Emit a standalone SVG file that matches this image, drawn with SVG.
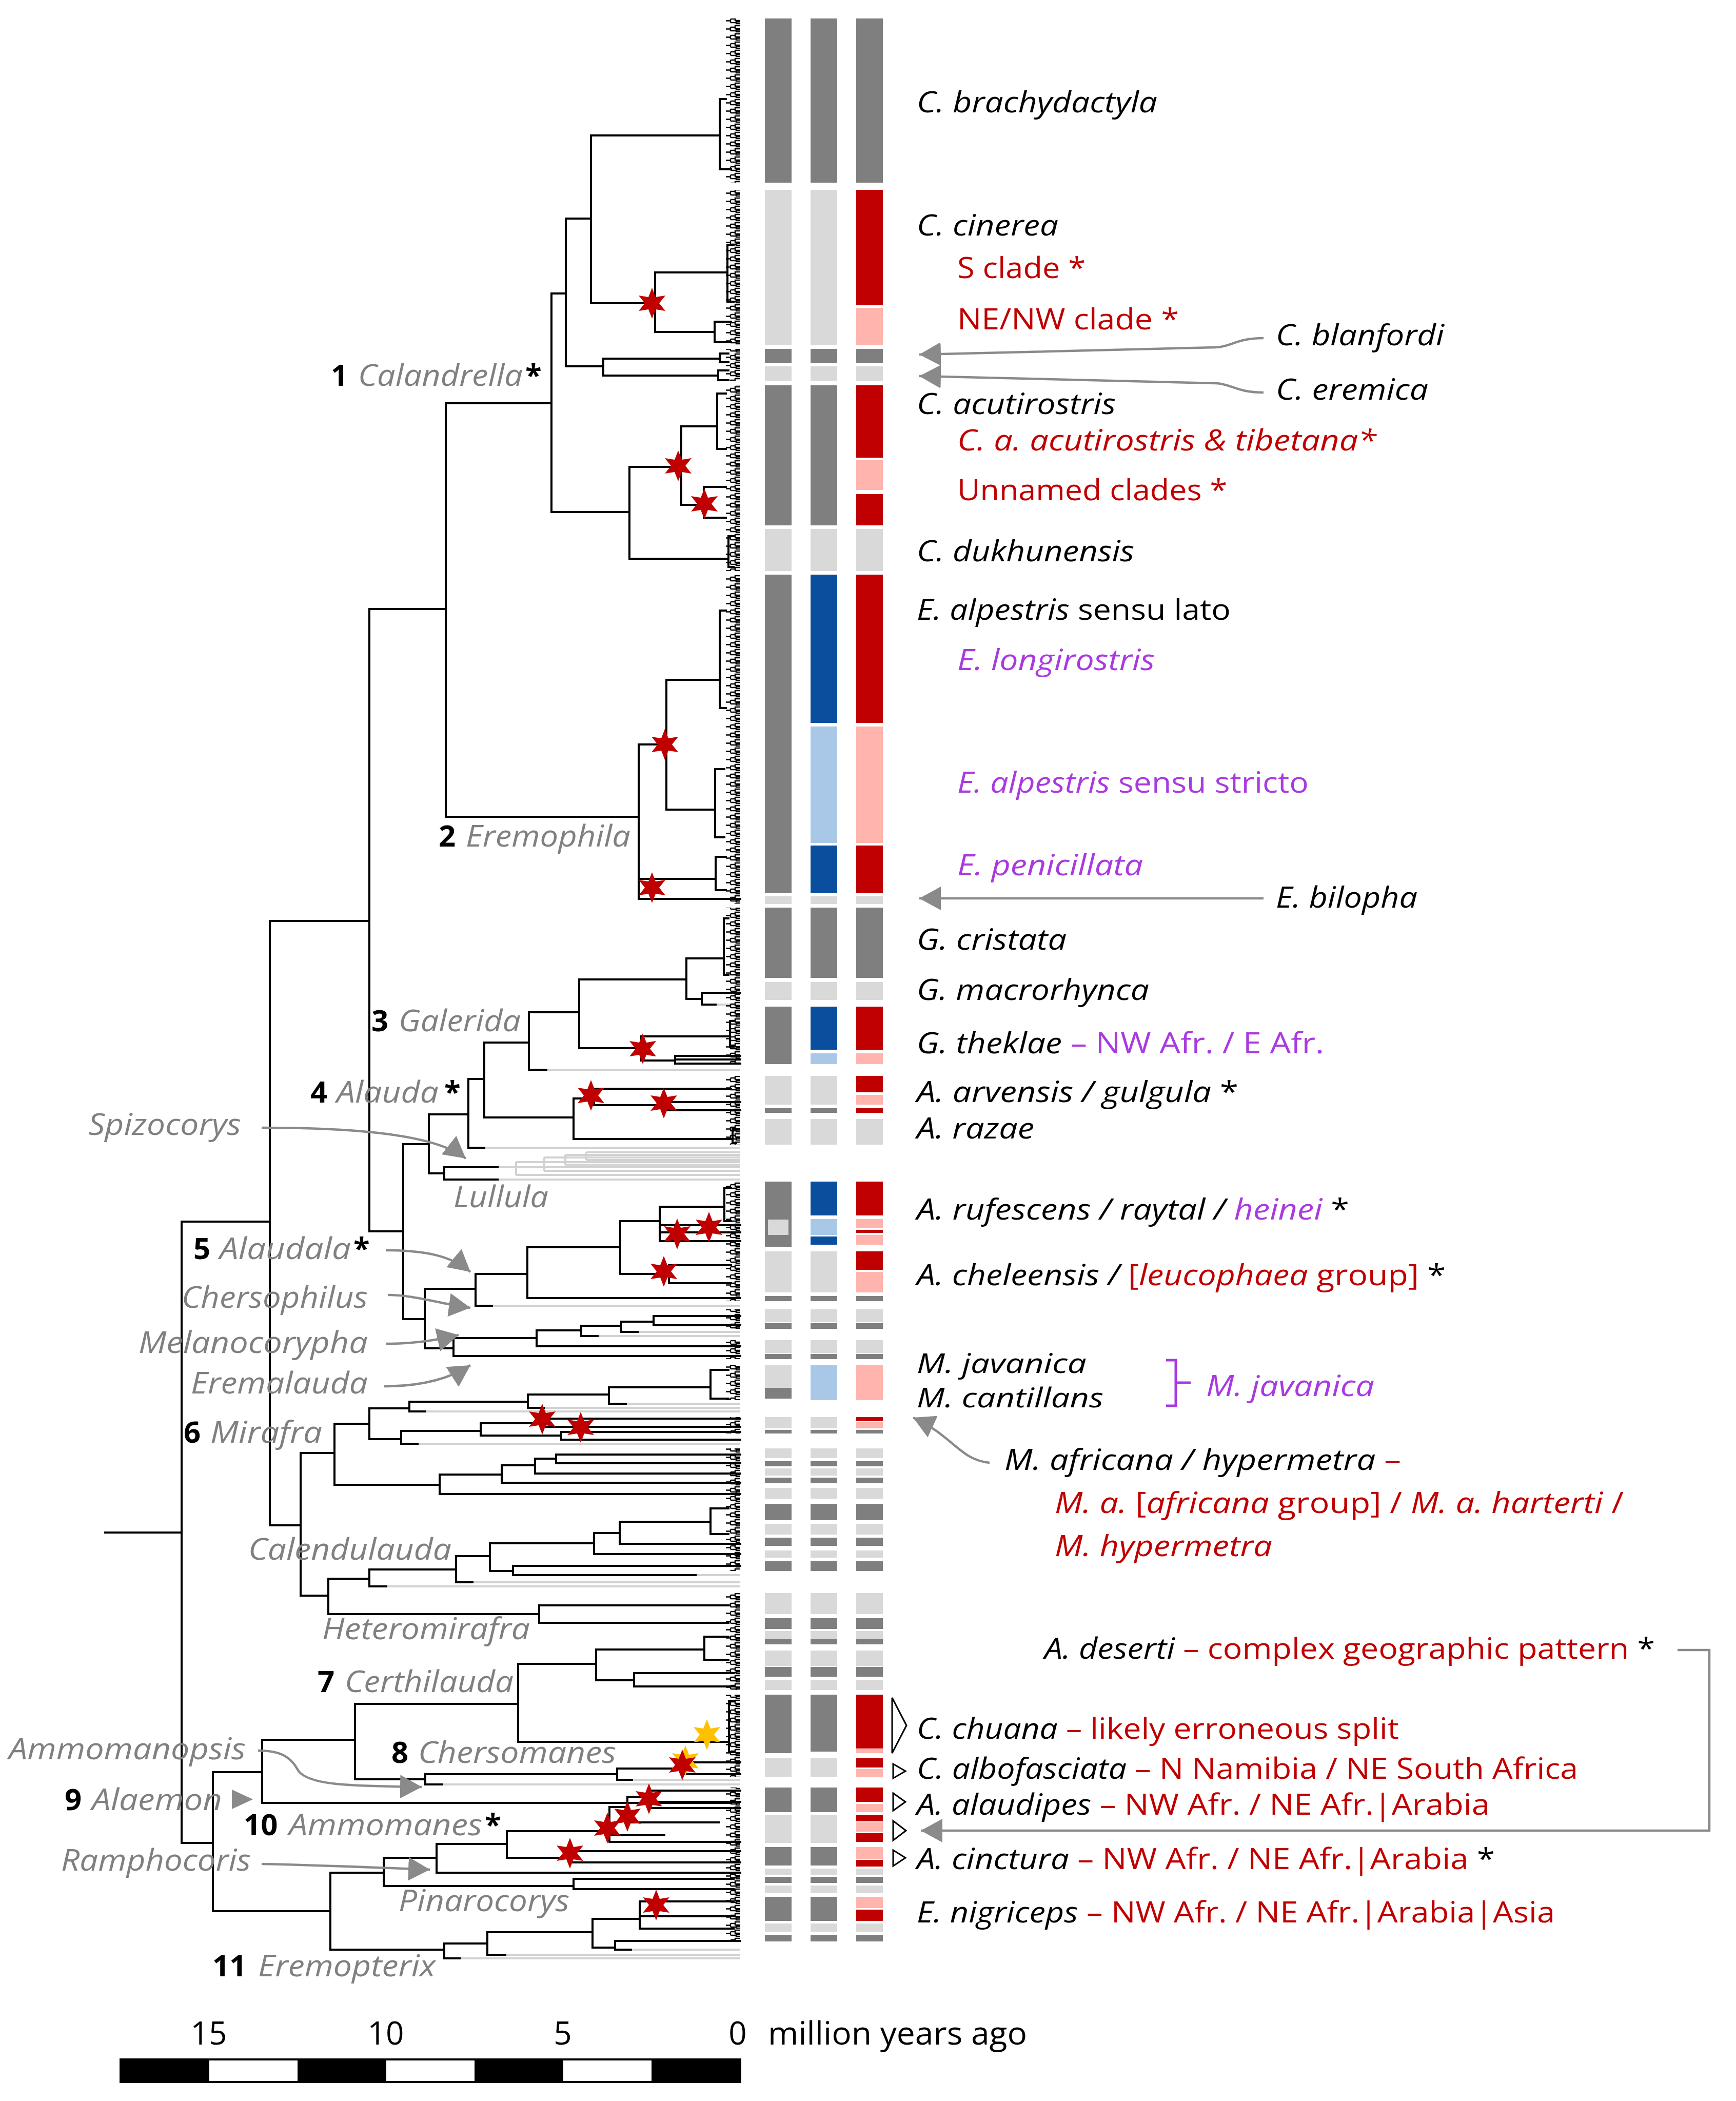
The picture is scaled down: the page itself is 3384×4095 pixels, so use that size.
<svg xmlns="http://www.w3.org/2000/svg" xmlns:xlink="http://www.w3.org/1999/xlink" width="3384" height="4095" viewBox="0 0 3384 4095">
<style>
.br{fill:none;stroke:#000;stroke-width:4;stroke-linecap:square}
.gt{fill:none;stroke:#d2d2d2;stroke-width:4}
.ar{fill:none;stroke:#8a8a8a;stroke-width:4.5}
text{font-family:'Open Sans',Lato,'Liberation Sans',sans-serif;font-size:56px;fill:#000}
.c{fill:#808080;font-style:italic;font-size:58px}
.n{font-weight:bold;fill:#000;font-size:58px}
.i{font-style:italic}
.u{font-style:normal}
.r{fill:#c00000}
.p{fill:#a93ae0}
.sm{font-size:53px}
.D{fill:#7f7f7f}.L{fill:#d9d9d9}.R{fill:#c00000}.P{fill:#ffb4ae}.B{fill:#0a4f9e}.LB{fill:#a9c8e8}
.tri{fill:#fff;stroke:#000;stroke-width:3}
</style>
<defs>
<pattern id="comb" patternUnits="userSpaceOnUse" x="1409" y="0" width="34" height="16">
<path d="M34 2H24V8H34M24 5H15M34 10.5H26V14H34M26 12H15M15 5V12M15 8.5H6" fill="none" stroke="#000" stroke-width="2.4"/>
</pattern>
<marker id="ah" markerUnits="userSpaceOnUse" markerWidth="46" markerHeight="46" refX="42" refY="23" orient="auto">
<path d="M0 0L42 23L0 46Z" fill="#8a8a8a"/>
</marker>
<polygon id="star" points="0,-30 7,-12.1 26,-15 14,0 26,15 7,12.1 0,30 -7,12.1 -26,15 -14,0 -26,-15 -7,-12.1"/>
</defs>
<rect width="3384" height="4095" fill="#fff"/>

<g id="tree">
<path class="gt" d="M944 2237H1443M970 2275H1443M970 2299H1443M1006 2265V2290M1006 2265H1443M1006 2290H1443M1061 2256V2282M1061 2256H1443M1061 2282H1443M1102 2251V2270M1102 2251H1443M1102 2270H1443M1143 2246V2261M1143 2246H1443M1143 2261H1443M1065 2085H1443M1395 1958H1443M959 2545H1443M1165 2604H1443M1243 2596H1443M828 2751H1443M1060 2744H1443M1220 2736H1443M814 2814H1443M753 3092H1443M921 3084H1443M1356 3070H1443M862 3478H1443M1232 3469H1443M896 3817H1443M985 3810H1443M1230 3800H1443"/>
<path class="br" d="M205 2987H354M526 2381H354V3592H415M720 1795H526V2973H586M869 1187H720V2400H786M1075 786H869V1592H1245
M1103 572H1075V998H1227M1152 426H1103V714H1176M1403 264H1152V591H1277M1415 193H1403V330H1425M1418 531H1277V647H1393M1430 477H1418V588H1430M1425 627H1393V667H1425M1403 699H1176V732H1400M1420 689H1403V706H1420M1420 722H1400V741H1420
M1328 910H1227V1089H1420M1398 831H1328V984H1372M1415 767H1398V875H1415M1415 949H1372V1009H1415M1430 1045H1420V1105H1430
M1299 1451H1245V1752H1443M1245 1713H1395M1403 1325H1299V1578H1394M1415 1190H1403V1380H1415M1412 1499H1394V1632H1412M1415 1670H1395V1735H1415
M836 2230H786V2571H828M913 2172H836V2287H866M944 2103H913V2237H944M1031 2032H944V2178H1118M1129 1973H1031V2085H1065M1338 1909H1129V2043H1250M1411 1868H1338V1947H1368M1420 1790H1411V1900H1420M1443 1935H1368V1958H1395M1423 2020H1250V2067H1316M1430 1990H1423V2040H1430M1443 2058H1316V2073H1443M1316 2065H1443
M1158 2141H1118V2220H1428M1425 2122H1158V2154H1299M1443 2148H1299V2164H1443M1435 2200H1428V2228H1435M970 2275H866V2299H970
M927 2512H828V2628H884M1028 2483H927V2545H959M1209 2431H1028V2530H1443M1286 2380H1209V2483H1304M1425 2466H1304V2501H1425M1412 2352H1286V2419H1443M1286 2388H1443M1286 2402H1443M1425 2315H1412V2380H1425
M1046 2608H884V2643H1443M1133 2593H1046V2624H1443M1211 2584H1133V2604H1165M1274 2576H1211V2596H1243M1443 2565H1274V2583H1443
M652 2832H586V3110H640M720 2775H652V2894H857M798 2745H720V2805H782M1029 2732H798V2751H828M1187 2718H1029V2744H1060M1385 2704H1187V2736H1220M1420 2670H1385V2726H1420M937 2789H782V2814H814M1063 2774H937V2798H1094M1443 2765H1063V2781H1443M1443 2791H1094V2806H1443
M978 2874H857V2912H1443M1043 2856H978V2890H1443M1084 2843H1043V2872H1443M1443 2835H1084V2852H1443
M720 3077H640V3146H1051M889 3059H720V3092H753M955 3033H889V3084H921M1158 3008H955V3062H1000M1208 2988H1158V3029H1443M1385 2966H1208V3009H1443M1420 2940H1385V2990H1420M1443 3052H1000V3070H1356M1420 3129H1051V3163H1420
M511 3454H415V3725H644M692 3391H511V3514H1425M1010 3321H692V3468H829M1162 3243H1010V3395H1421M1373 3215H1162V3275H1236M1420 3190H1373V3235H1420M1430 3261H1236V3287H1430M1430 3315H1421V3415H1430M1203 3458H829V3478H862M1336 3447H1203V3469H1232M1443 3435H1336V3458H1443
M748 3650H644V3800H866M851 3621H748V3676H1118M988 3594H851V3650H1443M1188 3569H988V3621H1111M1223 3522H1188V3590H1443M1188 3577H1295M1265 3502H1223V3552H1402M1443 3490H1265V3524H1443M1265 3512H1443M1443 3608H1111V3630H1443M1430 3662H1118V3682H1430
M950 3788H866V3817H896M1155 3766H950V3810H985M1247 3740H1155V3796H1199M1430 3706H1247V3759H1430M1247 3735H1430M1443 3783H1199V3800H1230"/>
<g fill="url(#comb)">
<rect x="1409" y="36" width="34" height="320"/>
<rect x="1409" y="370" width="34" height="303"/>
<rect x="1409" y="680" width="34" height="62"/>
<rect x="1409" y="751" width="34" height="362"/>
<rect x="1409" y="1120" width="34" height="642"/>
<rect x="1409" y="1769" width="34" height="305"/>
<rect x="1409" y="2097" width="34" height="134"/>
<rect x="1409" y="2303" width="34" height="233"/>
<rect x="1409" y="2552" width="34" height="38"/>
<rect x="1409" y="2612" width="34" height="37"/>
<rect x="1409" y="2661" width="34" height="68"/>
<rect x="1409" y="2762" width="34" height="32"/>
<rect x="1409" y="2823" width="34" height="239"/>
<rect x="1409" y="3105" width="34" height="189"/>
<rect x="1409" y="3303" width="34" height="160"/>
<rect x="1409" y="3484" width="34" height="300"/>
</g>
</g>

<g id="stars">
<use href="#star" x="1271" y="591" fill="#c00000"/>
<use href="#star" x="1322" y="908" fill="#c00000"/>
<use href="#star" x="1373" y="982" fill="#c00000"/>
<use href="#star" x="1296" y="1451" fill="#c00000"/>
<use href="#star" x="1271" y="1730" fill="#c00000"/>
<use href="#star" x="1253" y="2044" fill="#c00000"/>
<use href="#star" x="1152" y="2135" fill="#c00000"/>
<use href="#star" x="1294" y="2150" fill="#c00000"/>
<use href="#star" x="1382" y="2392" fill="#c00000"/>
<use href="#star" x="1320" y="2405" fill="#c00000"/>
<use href="#star" x="1294" y="2478" fill="#c00000"/>
<use href="#star" x="1057" y="2766" fill="#c00000"/>
<use href="#star" x="1132" y="2782" fill="#c00000"/>
<use href="#star" x="1378" y="3381" fill="#ffc000"/>
<use href="#star" x="1336" y="3432" fill="#ffc000"/>
<use href="#star" x="1330" y="3440" fill="#c00000"/>
<use href="#star" x="1265" y="3506" fill="#c00000"/>
<use href="#star" x="1223" y="3540" fill="#c00000"/>
<use href="#star" x="1184" y="3563" fill="#c00000"/>
<use href="#star" x="1111" y="3612" fill="#c00000"/>
<use href="#star" x="1279" y="3713" fill="#c00000"/>
</g>

<g id="bars">
<rect class="D" x="1491" y="36" width="52" height="320"/><rect class="D" x="1580" y="36" width="52" height="320"/><rect class="D" x="1669" y="36" width="52" height="320"/>
<rect class="L" x="1491" y="370" width="52" height="303"/><rect class="L" x="1580" y="370" width="52" height="303"/><rect class="R" x="1669" y="370" width="52" height="225"/><rect class="P" x="1669" y="600" width="52" height="73"/>
<rect class="D" x="1491" y="680" width="52" height="28"/><rect class="D" x="1580" y="680" width="52" height="28"/><rect class="D" x="1669" y="680" width="52" height="28"/>
<rect class="L" x="1491" y="714" width="52" height="28"/><rect class="L" x="1580" y="714" width="52" height="28"/><rect class="L" x="1669" y="714" width="52" height="28"/>
<rect class="D" x="1491" y="751" width="52" height="273"/><rect class="D" x="1580" y="751" width="52" height="273"/><rect class="R" x="1669" y="751" width="52" height="141"/><rect class="P" x="1669" y="896" width="52" height="59"/><rect class="R" x="1669" y="963" width="52" height="61"/>
<rect class="L" x="1491" y="1031" width="52" height="82"/><rect class="L" x="1580" y="1031" width="52" height="82"/><rect class="L" x="1669" y="1031" width="52" height="82"/>
<rect class="D" x="1491" y="1120" width="52" height="621"/><rect class="B" x="1580" y="1120" width="52" height="289"/><rect class="LB" x="1580" y="1416" width="52" height="227"/><rect class="B" x="1580" y="1648" width="52" height="93"/><rect class="R" x="1669" y="1120" width="52" height="289"/><rect class="P" x="1669" y="1416" width="52" height="227"/><rect class="R" x="1669" y="1648" width="52" height="93"/>
<rect class="L" x="1491" y="1747" width="52" height="15"/><rect class="L" x="1580" y="1747" width="52" height="15"/><rect class="L" x="1669" y="1747" width="52" height="15"/>
<rect class="D" x="1491" y="1769" width="52" height="137"/><rect class="D" x="1580" y="1769" width="52" height="137"/><rect class="D" x="1669" y="1769" width="52" height="137"/>
<rect class="L" x="1491" y="1914" width="52" height="35"/><rect class="L" x="1580" y="1914" width="52" height="35"/><rect class="L" x="1669" y="1914" width="52" height="35"/>
<rect class="D" x="1491" y="1962" width="52" height="112"/><rect class="B" x="1580" y="1962" width="52" height="84"/><rect class="LB" x="1580" y="2053" width="52" height="21"/><rect class="R" x="1669" y="1962" width="52" height="84"/><rect class="P" x="1669" y="2053" width="52" height="21"/>
<rect class="L" x="1491" y="2097" width="52" height="56"/><rect class="L" x="1580" y="2097" width="52" height="56"/><rect class="R" x="1669" y="2097" width="52" height="32"/><rect class="P" x="1669" y="2134" width="52" height="19"/>
<rect class="D" x="1491" y="2160" width="52" height="9"/><rect class="D" x="1580" y="2160" width="52" height="9"/><rect class="R" x="1669" y="2160" width="52" height="9"/>
<rect class="L" x="1491" y="2181" width="52" height="50"/><rect class="L" x="1580" y="2181" width="52" height="50"/><rect class="L" x="1669" y="2181" width="52" height="50"/>
<rect class="D" x="1491" y="2303" width="52" height="127"/><rect class="L" x="1497" y="2377" width="40" height="30"/><rect class="B" x="1580" y="2303" width="52" height="66"/><rect class="LB" x="1580" y="2376" width="52" height="31"/><rect class="B" x="1580" y="2410" width="52" height="16"/><rect class="R" x="1669" y="2303" width="52" height="66"/><rect class="P" x="1669" y="2376" width="52" height="17"/><rect class="R" x="1669" y="2397" width="52" height="6"/><rect class="P" x="1669" y="2407" width="52" height="19"/>
<rect class="L" x="1491" y="2439" width="52" height="80"/><rect class="L" x="1580" y="2439" width="52" height="80"/><rect class="R" x="1669" y="2439" width="52" height="36"/><rect class="P" x="1669" y="2479" width="52" height="40"/>
<rect class="D" x="1491" y="2526" width="52" height="10"/><rect class="D" x="1580" y="2526" width="52" height="10"/><rect class="D" x="1669" y="2526" width="52" height="10"/>
<rect class="L" x="1491" y="2552" width="52" height="25"/><rect class="L" x="1580" y="2552" width="52" height="25"/><rect class="L" x="1669" y="2552" width="52" height="25"/>
<rect class="D" x="1491" y="2579" width="52" height="11"/><rect class="D" x="1580" y="2579" width="52" height="11"/><rect class="D" x="1669" y="2579" width="52" height="11"/>
<rect class="L" x="1491" y="2612" width="52" height="25"/><rect class="L" x="1580" y="2612" width="52" height="25"/><rect class="L" x="1669" y="2612" width="52" height="25"/>
<rect class="D" x="1491" y="2639" width="52" height="10"/><rect class="D" x="1580" y="2639" width="52" height="10"/><rect class="D" x="1669" y="2639" width="52" height="10"/>
<rect class="L" x="1491" y="2661" width="52" height="44"/><rect class="D" x="1491" y="2705" width="52" height="21"/><rect class="LB" x="1580" y="2661" width="52" height="68"/><rect class="P" x="1669" y="2661" width="52" height="68"/>
<rect class="L" x="1491" y="2762" width="52" height="22"/><rect class="L" x="1580" y="2762" width="52" height="22"/><rect class="R" x="1669" y="2762" width="52" height="8"/><rect class="P" x="1669" y="2771" width="52" height="13"/>
<rect class="D" x="1491" y="2787" width="52" height="7"/><rect class="D" x="1580" y="2787" width="52" height="7"/><rect class="D" x="1669" y="2787" width="52" height="7"/>
<g id="barsMirafra">
<rect class="L" x="1491" y="2823" width="52" height="19"/><rect class="L" x="1580" y="2823" width="52" height="19"/><rect class="L" x="1669" y="2823" width="52" height="19"/>
<rect class="D" x="1491" y="2848" width="52" height="10"/><rect class="D" x="1580" y="2848" width="52" height="10"/><rect class="D" x="1669" y="2848" width="52" height="10"/>
<rect class="L" x="1491" y="2862" width="52" height="14"/><rect class="L" x="1580" y="2862" width="52" height="14"/><rect class="L" x="1669" y="2862" width="52" height="14"/>
<rect class="D" x="1491" y="2880" width="52" height="11"/><rect class="D" x="1580" y="2880" width="52" height="11"/><rect class="D" x="1669" y="2880" width="52" height="11"/>
<rect class="L" x="1491" y="2900" width="52" height="21"/><rect class="L" x="1580" y="2900" width="52" height="21"/><rect class="L" x="1669" y="2900" width="52" height="21"/>
<rect class="D" x="1491" y="2931" width="52" height="32"/><rect class="D" x="1580" y="2931" width="52" height="32"/><rect class="D" x="1669" y="2931" width="52" height="32"/>
<rect class="L" x="1491" y="2970" width="52" height="21"/><rect class="L" x="1580" y="2970" width="52" height="21"/><rect class="L" x="1669" y="2970" width="52" height="21"/>
<rect class="D" x="1491" y="2997" width="52" height="16"/><rect class="D" x="1580" y="2997" width="52" height="16"/><rect class="D" x="1669" y="2997" width="52" height="16"/>
<rect class="L" x="1491" y="3022" width="52" height="14"/><rect class="L" x="1580" y="3022" width="52" height="14"/><rect class="L" x="1669" y="3022" width="52" height="14"/>
<rect class="D" x="1491" y="3043" width="52" height="19"/><rect class="D" x="1580" y="3043" width="52" height="19"/><rect class="D" x="1669" y="3043" width="52" height="19"/>
<rect class="L" x="1491" y="3105" width="52" height="41"/><rect class="L" x="1580" y="3105" width="52" height="41"/><rect class="L" x="1669" y="3105" width="52" height="41"/>
<rect class="D" x="1491" y="3154" width="52" height="21"/><rect class="D" x="1580" y="3154" width="52" height="21"/><rect class="D" x="1669" y="3154" width="52" height="21"/>
<rect class="L" x="1491" y="3179" width="52" height="15"/><rect class="L" x="1580" y="3179" width="52" height="15"/><rect class="L" x="1669" y="3179" width="52" height="15"/>
<rect class="D" x="1491" y="3195" width="52" height="10"/><rect class="D" x="1580" y="3195" width="52" height="10"/><rect class="D" x="1669" y="3195" width="52" height="10"/>
<rect class="L" x="1491" y="3217" width="52" height="30"/><rect class="L" x="1580" y="3217" width="52" height="30"/><rect class="L" x="1669" y="3217" width="52" height="30"/>
<rect class="D" x="1491" y="3249" width="52" height="19"/><rect class="D" x="1580" y="3249" width="52" height="19"/><rect class="D" x="1669" y="3249" width="52" height="19"/>
<rect class="L" x="1491" y="3275" width="52" height="19"/><rect class="L" x="1580" y="3275" width="52" height="19"/><rect class="L" x="1669" y="3275" width="52" height="19"/>
</g>
<rect class="D" x="1491" y="3303" width="52" height="114"/><rect class="D" x="1580" y="3303" width="52" height="111"/><rect class="R" x="1669" y="3303" width="52" height="105"/><rect class="P" x="1669" y="3409" width="52" height="8"/>
<rect class="L" x="1491" y="3427" width="52" height="36"/><rect class="L" x="1580" y="3427" width="52" height="36"/><rect class="R" x="1669" y="3427" width="52" height="18"/><rect class="P" x="1669" y="3448" width="52" height="15"/>
<rect class="D" x="1491" y="3484" width="52" height="48"/><rect class="D" x="1580" y="3484" width="52" height="48"/><rect class="R" x="1669" y="3484" width="52" height="28"/><rect class="P" x="1669" y="3516" width="52" height="16"/>
<rect class="L" x="1491" y="3537" width="52" height="55"/><rect class="L" x="1580" y="3537" width="52" height="55"/><rect class="R" x="1669" y="3538" width="52" height="12"/><rect class="P" x="1669" y="3552" width="52" height="18"/><rect class="R" x="1669" y="3573" width="52" height="17"/>
<rect class="D" x="1491" y="3600" width="52" height="36"/><rect class="D" x="1580" y="3600" width="52" height="36"/><rect class="P" x="1669" y="3600" width="52" height="24"/><rect class="R" x="1669" y="3625" width="52" height="13"/>
<rect class="L" x="1491" y="3642" width="52" height="12"/><rect class="L" x="1580" y="3642" width="52" height="12"/><rect class="L" x="1669" y="3642" width="52" height="12"/>
<rect class="D" x="1491" y="3658" width="52" height="12"/><rect class="D" x="1580" y="3658" width="52" height="12"/><rect class="D" x="1669" y="3658" width="52" height="12"/>
<rect class="L" x="1491" y="3675" width="52" height="15"/><rect class="L" x="1580" y="3675" width="52" height="15"/><rect class="L" x="1669" y="3675" width="52" height="15"/>
<rect class="D" x="1491" y="3697" width="52" height="47"/><rect class="D" x="1580" y="3697" width="52" height="47"/><rect class="P" x="1669" y="3697" width="52" height="22"/><rect class="R" x="1669" y="3722" width="52" height="22"/>
<rect class="L" x="1491" y="3749" width="52" height="16"/><rect class="L" x="1580" y="3749" width="52" height="16"/><rect class="L" x="1669" y="3749" width="52" height="16"/>
<rect class="D" x="1491" y="3771" width="52" height="13"/><rect class="D" x="1580" y="3771" width="52" height="13"/><rect class="D" x="1669" y="3771" width="52" height="13"/>
</g>

<g id="connectors">
<path class="ar" marker-end="url(#ah)" d="M2463 659C2410 659 2400 676 2370 677L1792 691"/>
<path class="ar" marker-end="url(#ah)" d="M2463 765C2410 765 2400 748 2370 747L1792 733"/>
<path class="ar" marker-end="url(#ah)" d="M2463 1751H1792"/>
<path class="ar" marker-end="url(#ah)" d="M3270 3216H3332V3568H1795"/>
<path class="ar" marker-end="url(#ah)" d="M1929 2851C1870 2845 1860 2800 1780 2763"/>
<path class="ar" marker-end="url(#ah)" d="M510 2198C700 2198 850 2212 908 2258"/>
<path class="ar" marker-end="url(#ah)" d="M752 2437C830 2437 880 2448 917 2479"/>
<path class="ar" marker-end="url(#ah)" d="M756 2524C810 2524 850 2540 917 2549"/>
<path class="ar" marker-end="url(#ah)" d="M752 2619C810 2619 850 2612 894 2602"/>
<path class="ar" marker-end="url(#ah)" d="M749 2702C820 2702 875 2688 917 2661"/>
<path class="ar" marker-end="url(#ah)" d="M503 3412C560 3412 572 3435 582 3452C605 3482 700 3481 822 3483"/>
<path class="ar" marker-end="url(#ah)" d="M510 3633C650 3636 730 3640 838 3644"/>
<polygon points="452,3488 493,3507 452,3526" fill="#8a8a8a"/>
<polygon class="tri" points="1739,3309 1767,3363 1739,3417"/>
<polygon class="tri" points="1741,3438 1765,3452 1741,3466"/>
<polygon class="tri" points="1741,3495 1765,3512 1741,3529"/>
<polygon class="tri" points="1741,3549 1766,3568 1741,3587"/>
<polygon class="tri" points="1741,3606 1765,3621 1741,3637"/>
<path d="M2273 2651H2292V2740H2273M2292 2695H2321" fill="none" stroke="#a93ae0" stroke-width="5"/>
</g>

<g id="cladeLabels">
<g id="c1"><text class="n" x="645" y="752">1</text><text class="c" x="698" y="752" textLength="321" lengthAdjust="spacingAndGlyphs">Calandrella</text><text class="n" x="1024" y="752">*</text></g>
<g id="c2"><text class="n" x="855" y="1650">2</text><text class="c" x="908" y="1650" textLength="321" lengthAdjust="spacingAndGlyphs">Eremophila</text></g>
<g id="c3"><text class="n" x="724" y="2010">3</text><text class="c" x="777" y="2010" textLength="238" lengthAdjust="spacingAndGlyphs">Galerida</text></g>
<g id="c4"><text class="n" x="605" y="2149">4</text><text class="c" x="656" y="2149" textLength="199" lengthAdjust="spacingAndGlyphs">Alauda</text><text class="n" x="866" y="2149">*</text></g>
<g id="c5"><text class="n" x="377" y="2454">5</text><text class="c" x="428" y="2454" textLength="256" lengthAdjust="spacingAndGlyphs">Alaudala</text><text class="n" x="689" y="2454">*</text></g>
<g id="c6"><text class="n" x="358" y="2812">6</text><text class="c" x="410" y="2812" textLength="218" lengthAdjust="spacingAndGlyphs">Mirafra</text></g>
<g id="c7"><text class="n" x="619" y="3298">7</text><text class="c" x="672" y="3298" textLength="329" lengthAdjust="spacingAndGlyphs">Certhilauda</text></g>
<g id="c8"><text class="n" x="763" y="3436">8</text><text class="c" x="815" y="3436" textLength="386" lengthAdjust="spacingAndGlyphs">Chersomanes</text></g>
<g id="c9"><text class="n" x="126" y="3528">9</text><text class="c" x="179" y="3528" textLength="254" lengthAdjust="spacingAndGlyphs">Alaemon</text></g>
<g id="c10"><text class="n" x="475" y="3577">10</text><text class="c" x="563" y="3577" textLength="377" lengthAdjust="spacingAndGlyphs">Ammomanes</text><text class="n" x="945" y="3577">*</text></g>
<g id="c11"><text class="n" x="414" y="3852">11</text><text class="c" x="503" y="3852" textLength="346" lengthAdjust="spacingAndGlyphs">Eremopterix</text></g>
<g id="spizocorys"><text class="c" x="172" y="2212" textLength="298" lengthAdjust="spacingAndGlyphs">Spizocorys</text></g>
<g id="lullula"><text class="c" x="884" y="2353" textLength="185" lengthAdjust="spacingAndGlyphs">Lullula</text></g>
<g id="chersophilus"><text class="c" x="354" y="2549" textLength="363" lengthAdjust="spacingAndGlyphs">Chersophilus</text></g>
<g id="melanocorypha"><text class="c" x="270" y="2637" textLength="447" lengthAdjust="spacingAndGlyphs">Melanocorypha</text></g>
<g id="eremalauda"><text class="c" x="372" y="2716" textLength="345" lengthAdjust="spacingAndGlyphs">Eremalauda</text></g>
<g id="calendulauda"><text class="c" x="484" y="3040" textLength="396" lengthAdjust="spacingAndGlyphs">Calendulauda</text></g>
<g id="heteromirafra"><text class="c" x="628" y="3195" textLength="405" lengthAdjust="spacingAndGlyphs">Heteromirafra</text></g>
<g id="ammomanopsis"><text class="c" x="17" y="3429" textLength="462" lengthAdjust="spacingAndGlyphs">Ammomanopsis</text></g>
<g id="ramphocoris"><text class="c" x="119" y="3646" textLength="370" lengthAdjust="spacingAndGlyphs">Ramphocoris</text></g>
<g id="pinarocorys"><text class="c" x="777" y="3725" textLength="333" lengthAdjust="spacingAndGlyphs">Pinarocorys</text></g>
</g>

<g id="taxonLabels">
<g id="l1"><text class="i" x="1787" y="219" textLength="469" lengthAdjust="spacingAndGlyphs">C. brachydactyla</text></g>
<g id="l2"><text class="i" x="1787" y="459" textLength="276" lengthAdjust="spacingAndGlyphs">C. cinerea</text></g>
<g id="l3"><text class="r" x="1866" y="542" textLength="250" lengthAdjust="spacingAndGlyphs">S clade *</text></g>
<g id="l4"><text class="r" x="1866" y="642" textLength="432" lengthAdjust="spacingAndGlyphs">NE/NW clade *</text></g>
<g id="l5"><text class="i" x="2487" y="673" textLength="328" lengthAdjust="spacingAndGlyphs">C. blanfordi</text></g>
<g id="l6"><text class="i" x="2487" y="779" textLength="297" lengthAdjust="spacingAndGlyphs">C. eremica</text></g>
<g id="l7"><text class="i" x="1787" y="807" textLength="388" lengthAdjust="spacingAndGlyphs">C. acutirostris</text></g>
<g id="l8"><text class="i r" x="1866" y="878" textLength="817" lengthAdjust="spacingAndGlyphs">C. a. acutirostris &amp; tibetana*</text></g>
<g id="l9"><text class="r" x="1866" y="975" textLength="526" lengthAdjust="spacingAndGlyphs">Unnamed clades *</text></g>
<g id="l10"><text class="i" x="1787" y="1094" textLength="424" lengthAdjust="spacingAndGlyphs">C. dukhunensis</text></g>
<g id="l11"><text x="1787" y="1208" textLength="612" lengthAdjust="spacingAndGlyphs"><tspan class="i">E. alpestris</tspan> sensu lato</text></g>
<g id="l12"><text class="i p" x="1866" y="1306" textLength="385" lengthAdjust="spacingAndGlyphs">E. longirostris</text></g>
<g id="l13"><text class="p" x="1866" y="1545" textLength="685" lengthAdjust="spacingAndGlyphs"><tspan class="i">E. alpestris</tspan> sensu stricto</text></g>
<g id="l14"><text class="i p" x="1866" y="1706" textLength="362" lengthAdjust="spacingAndGlyphs">E. penicillata</text></g>
<g id="l15"><text class="i" x="2487" y="1769" textLength="276" lengthAdjust="spacingAndGlyphs">E. bilopha</text></g>
<g id="l16"><text class="i" x="1787" y="1851" textLength="292" lengthAdjust="spacingAndGlyphs">G. cristata</text></g>
<g id="l17"><text class="i" x="1787" y="1949" textLength="453" lengthAdjust="spacingAndGlyphs">G. macrorhynca</text></g>
<g id="l18"><text x="1787" y="2053" textLength="794" lengthAdjust="spacingAndGlyphs"><tspan class="i">G. theklae</tspan><tspan class="p"> – NW Afr. / E Afr.</tspan></text></g>
<g id="l19"><text class="i" x="1787" y="2148" textLength="627" lengthAdjust="spacingAndGlyphs">A. arvensis / gulgula <tspan class="u">*</tspan></text></g>
<g id="l20"><text class="i" x="1787" y="2219" textLength="229" lengthAdjust="spacingAndGlyphs">A. razae</text></g>
<g id="l21"><text class="i" x="1787" y="2377" textLength="843" lengthAdjust="spacingAndGlyphs">A. rufescens / raytal / <tspan class="p">heinei</tspan><tspan class="u"> *</tspan></text></g>
<g id="l22"><text class="i" x="1787" y="2505" textLength="1031" lengthAdjust="spacingAndGlyphs">A. cheleensis / <tspan class="r u">[</tspan><tspan class="r">leucophaea</tspan><tspan class="r u"> group]</tspan><tspan class="u"> *</tspan></text></g>
<g id="l23"><text class="i sm" x="1787" y="2676" textLength="331" lengthAdjust="spacingAndGlyphs">M. javanica</text></g>
<g id="l24"><text class="i sm" x="1787" y="2743" textLength="364" lengthAdjust="spacingAndGlyphs">M. cantillans</text></g>
<g id="l25"><text class="i p" x="2351" y="2721" textLength="328" lengthAdjust="spacingAndGlyphs">M. javanica</text></g>
<g id="l26"><text class="i" x="1958" y="2865" textLength="773" lengthAdjust="spacingAndGlyphs">M. africana / hypermetra <tspan class="r u">–</tspan></text></g>
<g id="l27"><text class="r" x="2056" y="2949" textLength="1109" lengthAdjust="spacingAndGlyphs"><tspan class="i">M. a.</tspan> [<tspan class="i">africana</tspan> group] / <tspan class="i">M. a. harterti</tspan> /</text></g>
<g id="l28"><text class="i r" x="2056" y="3033" textLength="424" lengthAdjust="spacingAndGlyphs">M. hypermetra</text></g>
<g id="l29"><text x="2036" y="3233" textLength="1190" lengthAdjust="spacingAndGlyphs"><tspan class="i">A. deserti</tspan><tspan class="r"> – complex geographic pattern</tspan> *</text></g>
<g id="l30"><text x="1787" y="3389" textLength="940" lengthAdjust="spacingAndGlyphs"><tspan class="i">C. chuana</tspan><tspan class="r"> – likely erroneous split</tspan></text></g>
<g id="l31"><text x="1787" y="3467" textLength="1289" lengthAdjust="spacingAndGlyphs"><tspan class="i">C. albofasciata</tspan><tspan class="r"> – N Namibia / NE South Africa</tspan></text></g>
<g id="l32"><text x="1787" y="3537" textLength="1117" lengthAdjust="spacingAndGlyphs"><tspan class="i">A. alaudipes</tspan><tspan class="r"> – NW Afr. / NE Afr.|Arabia</tspan></text></g>
<g id="l33"><text x="1787" y="3643" textLength="1127" lengthAdjust="spacingAndGlyphs"><tspan class="i">A. cinctura</tspan><tspan class="r"> – NW Afr. / NE Afr.|Arabia</tspan> *</text></g>
<g id="l34"><text x="1787" y="3747" textLength="1244" lengthAdjust="spacingAndGlyphs"><tspan class="i">E. nigriceps</tspan><tspan class="r"> – NW Afr. / NE Afr.|Arabia|Asia</tspan></text></g>
</g>

<g id="scale">
<rect x="235" y="4014" width="1208" height="44" fill="#fff" stroke="#000" stroke-width="4"/>
<rect x="235" y="4014" width="173" height="44" fill="#000"/>
<rect x="580" y="4014" width="173" height="44" fill="#000"/>
<rect x="925" y="4014" width="173" height="44" fill="#000"/>
<rect x="1270" y="4014" width="173" height="44" fill="#000"/>
<text x="407" y="3985" text-anchor="middle" style="font-size:62px">15</text>
<text x="752" y="3985" text-anchor="middle" style="font-size:62px">10</text>
<text x="1097" y="3985" text-anchor="middle" style="font-size:62px">5</text>
<text x="1438" y="3985" text-anchor="middle" style="font-size:62px">0</text>
<text x="1497" y="3985" style="font-size:62px" textLength="505" lengthAdjust="spacingAndGlyphs">million years ago</text>
</g>
</svg>
